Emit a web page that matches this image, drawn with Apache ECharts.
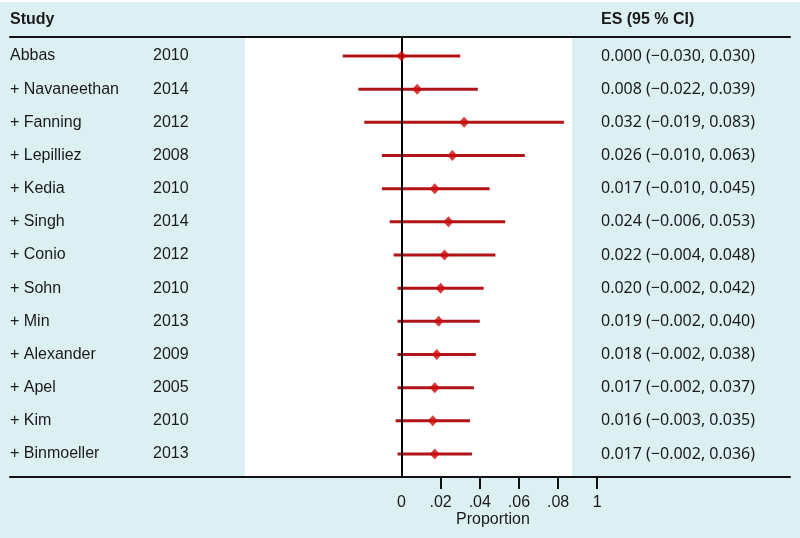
<!DOCTYPE html>
<html>
<head>
<meta charset="utf-8">
<script src="https://cdn.jsdelivr.net/npm/echarts@6/dist/echarts.min.js"></script>
<style>html,body{margin:0;padding:0;background:#fff}#c{width:800px;height:538px}</style>
</head>
<body>
<div id="c"></div>
<script>
const studies = ['Abbas', '+ Navaneethan', '+ Fanning', '+ Lepilliez', '+ Kedia', '+ Singh', '+ Conio', '+ Sohn', '+ Min', '+ Alexander', '+ Apel', '+ Kim', '+ Binmoeller'];
const years = ['2010', '2014', '2012', '2008', '2010', '2014', '2012', '2010', '2013', '2009', '2005', '2010', '2013'];
const es = [0.000, 0.008, 0.032, 0.026, 0.017, 0.024, 0.022, 0.020, 0.019, 0.018, 0.017, 0.016, 0.017];
const lo = [-0.030, -0.022, -0.019, -0.010, -0.010, -0.006, -0.004, -0.002, -0.002, -0.002, -0.002, -0.003, -0.002];
const hi = [0.030, 0.039, 0.083, 0.063, 0.045, 0.053, 0.048, 0.042, 0.040, 0.038, 0.037, 0.035, 0.036];
const tickValues = [0, 0.02, 0.04, 0.06, 0.08, 0.1];
const tickLabels = ['0', '.02', '.04', '.06', '.08', '1'];
const axisTitle = 'Proportion';
const headers = ['Study', 'ES (95 % CI)'];

const fmt = v => (v < 0 ? '\u2212' : '') + Math.abs(v).toFixed(3);
const esLabels = es.map((v, i) => fmt(v) + ' (' + fmt(lo[i]) + ', ' + fmt(hi[i]) + ')');
const rows = studies.map((_, i) => i);

const FONT = "'Liberation Sans', Arial, sans-serif";
const NUMFONT = "'Noto Sans', 'Liberation Sans', sans-serif";
const TXT = '#1a1a1a';
const BG = '#dcf0f4';
const X_MIN = -0.2, X_MAX = 0.1985;

const yBase = {
  type: 'value', min: -0.574, max: 12.695, inverse: true,
  axisLine: { show: false }, axisTick: { show: false }, splitLine: { show: false }
};
function labelAxis(pos, offset, labels, font) {
  return Object.assign({}, yBase, {
    position: pos, offset: offset,
    axisLabel: {
      show: true, customValues: rows, align: 'left', margin: 0,
      color: TXT, fontSize: 16, fontFamily: font,
      formatter: v => labels[Math.round(v)]
    }
  });
}

const chart = echarts.init(document.getElementById('c'));
chart.setOption({
  backgroundColor: BG,
  animation: false,
  grid: { left: 10, right: 10, top: 37, bottom: 61 },
  xAxis: [{
    type: 'value', min: X_MIN, max: X_MAX, position: 'bottom',
    axisLine: { show: true, onZero: false, lineStyle: { color: '#111', width: 2 } },
    axisTick: { show: true, customValues: tickValues.slice(1), length: 12, lineStyle: { color: '#111', width: 2 } },
    axisLabel: {
      show: true, customValues: tickValues, margin: 18, color: TXT, fontSize: 16, fontFamily: FONT,
      formatter: v => { const k = tickValues.findIndex(t => Math.abs(t - v) < 1e-9); return k >= 0 ? tickLabels[k] : ''; }
    },
    splitLine: { show: false }
  }, {
    type: 'value', min: X_MIN, max: X_MAX, position: 'top',
    axisLine: { show: true, onZero: false, lineStyle: { color: '#111', width: 2 } },
    axisTick: { show: false }, axisLabel: { show: false }, splitLine: { show: false }
  }],
  yAxis: [
    Object.assign({}, yBase, { axisLabel: { show: false } }),
    labelAxis('left', 0, studies, FONT),
    labelAxis('left', -143, years, FONT),
    labelAxis('right', -189, esLabels, NUMFONT)
  ],
  graphic: [
    { type: 'rect', z: -10, shape: { x: 245, y: 37, width: 327, height: 439 }, style: { fill: '#ffffff' } },
    { type: 'rect', z: -10, shape: { x: 0, y: 0, width: 800, height: 2 }, style: { fill: '#ffffff' } },
    { type: 'text', left: 10, top: 12, style: { text: headers[0], font: 'bold 16px ' + FONT, fill: TXT } },
    { type: 'text', left: 601, top: 12, style: { text: headers[1], font: 'bold 16px ' + FONT, fill: TXT } },
    { type: 'text', left: 456, top: 512, style: { text: axisTitle, font: '16px ' + FONT, fill: TXT } }
  ],
  series: [{
    type: 'custom',
    xAxisIndex: 0, yAxisIndex: 0,
    data: rows.map(i => [lo[i], hi[i], i]),
    renderItem: (params, api) => {
      const a = api.coord([api.value(0), api.value(2)]);
      const b = api.coord([api.value(1), api.value(2)]);
      return { type: 'line', shape: { x1: a[0], y1: a[1], x2: b[0], y2: b[1] }, style: { stroke: '#b01418', lineWidth: 3 } };
    },
    encode: { x: [0, 1], y: 2 },
    z: 3,
    markLine: {
      silent: true, symbol: 'none', label: { show: false },
      lineStyle: { color: '#000', width: 2, type: 'solid' },
      data: [{ xAxis: 0 }]
    }
  }, {
    type: 'scatter',
    xAxisIndex: 0, yAxisIndex: 0,
    symbol: 'diamond', symbolSize: [10, 11],
    itemStyle: { color: '#cc0a0a' },
    data: rows.map(i => [es[i], i]),
    z: 5
  }]
});
</script>
</body>
</html>
